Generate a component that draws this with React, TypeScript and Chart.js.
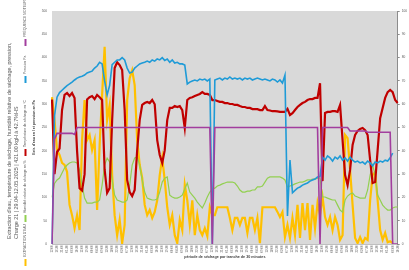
import { useEffect, useRef } from "react";
import { Chart, registerables } from "chart.js";

Chart.register(...registerables);

// 139 sampled half-hour slots, starting 29.04 12:00, one sample per 135 min
const START_MINUTES = 12 * 60;
const STEP_MINUTES = 135;
const SLOT_COUNT = 139;
const slotLabels: string[] = Array.from({ length: SLOT_COUNT }, (_, i) => {
  const m = START_MINUTES + i * STEP_MINUTES;
  const h = Math.floor(m / 60) % 24;
  const mm = m % 60;
  return `${String(h).padStart(2, "0")}:${String(mm).padStart(2, "0")}`;
});

const seriesNames = [
  "EXTRACTION D'EAU",
  "Humidité relative de séchage en %",
  "Température de séchage en °C",
  "Pression Pa",
  "FRÉQUENCE MOTEUR",
];

// left axis (0-500)
const waterExtraction = [
  315, 266, 202, 191, 174, 170, 155, 84, 62, 34, 62, 30, 223, 309, 223, 234, 202, 223, 73, 212,
  320, 423, 266, 298, 148, 62, 19, 52, 2, 41, 309, 356, 373, 341, 223, 170, 142, 84, 62, 73,
  56, 69, 94, 148, 185, 137, 79, 41, 62, 19, 2, 52, 30, 127, 94, 41, 94, 19, 62, 30,
  19, 34, 17, 79, 62, 62, 79, 79, 79, 79, 79, 56, 30, 56, 56, 41, 56, 56, 24, 56,
  56, 30, 56, 2, 79, 79, 79, 79, 79, 79, 69, 58, 69, 15, 41, 13, 56, 19, 84, 13,
  88, 30, 88, 9, 84, 34, 88, 62, 101, 58, 41, 58, 30, 58, 41, 9, 19, 234, 227, 159,
  84, 13, 2, 15, 2, 13, 9, 94, 148, 155, 94, 30, 9, 24, 4, 6, 2, null, null,
];

// right axis (0-100)
const humidity = [
  20, 26, 27.5, 28.3, 30.5, 32.6, 33.9, 34.8, 35.2, 35.2, 34.8, 31.8, 25.3, 19.7, 17.6, 17.6, 17.6, 18, 18, 18.9,
  25.3, 33.9, 36.9, 35.2, 27.5, 21, 18.9, 18.5, 18, 18, 18.9, 25.3, 33.9, 36.9, 37.3, 33.9, 27.5, 22.3, 19.7, 19.3,
  18.9, 18.9, 19.3, 22.3, 26.6, 28.3, 28.8, 21, 20.2, 19.7, 19.7, 20.2, 21, 23.6, 26.2, 22.3, 21, 19.7, 18, 16.7,
  15.5, 17.6, 20.2, 22.3, 23.6, 24, 24.9, 25.3, 25.8, 26.2, 26.6, 26.6, 26.6, 26.2, 24.9, 23.2, 22.3, 22.3, 22.7, 22.7,
  23.2, 23.2, 24.5, 24.5, 24.9, 26.6, 28.3, 28.8, 28.8, 28.8, 28.8, 28.8, 28.3, 27.5, 24.5, 24.9, 25.3, 25.8, 26.2, 26.6,
  26.6, 27, 27.5, 27.5, 27.9, 27.9, 28.3, 28.3, 20.2, 20.2, 19.7, 19.3, 18.9, 18.9, 16.7, 14.6, 13.7, 18.9, 20.6, 21.5,
  21.9, 20.6, 20.2, 19.7, 19.7, 19.7, 23.2, 29.6, 33.9, 29.6, 21, 18.9, 16.7, 15.5, 14.6, 14.6, 15.5, 15.9, 15.9,
];

const dryingTemperature = [
  62, 30, 39.5, 41, 57.5, 64, 64.8, 63.5, 64.8, 62.7, 40, 24, 23, 30, 62, 63, 63.5, 62.2, 64, 63,
  61.8, 32, 22, 24, 53, 75.5, 78, 76.8, 74.7, 57.5, 27.5, 22.3, 20.6, 23.2, 40.3, 53.2, 59.7, 60.5, 61, 60.5,
  61.8, 60, 44.6, 38.2, 34.8, 40.3, 53.2, 58.4, 58.4, 59.2, 58.8, 59.2, 57.5, 49.8, 61.8, 62.7, 63, 63.5, 64, 64.4,
  65.2, 64.4, 64.4, 64, 61.8, 61.8, 61.4, 61, 61, 60.5, 60.5, 60.1, 60.1, 59.7, 59.7, 59.2, 58.8, 58.8, 58.4, 58.4,
  57.9, 57.9, 57.9, 57.5, 57.5, 59.2, 57.5, 57.3, 57, 57, 56.9, 56.7, 56.7, 56.7, 58, 55.4, 56.2, 57.5, 58.8, 59.7,
  60.5, 61, 61.8, 62.2, 62.2, 62.7, 62.7, 69, 27, 56.2, 56.7, 56.7, 57, 57, 56.7, 59.7, 44.6, 29.6, 25.3, 31.8,
  42.5, 46.8, 48.5, 49.4, 49.8, 48.9, 46.8, 36, 26.2, 26.6, 40.3, 54, 58.4, 62.7, 65.2, 66.1, 65.2, 61.8, 60.5,
];

const pressure = [
  0, 55, 63, 65, 66, 67, 68, 68.7, 69.5, 70.4, 71.2, 71.7, 72, 72.5, 73.4, 73.8, 74.2, 75.5, 76.4, 78,
  77.3, 70, 64, 68, 77, 78, 79, 79, 80, 79, 75.5, 73.4, 73.8, 75.5, 76.4, 77.3, 77.7, 78, 78.5, 78,
  79, 78.5, 79.4, 79, 80, 78.8, 79.4, 78, 79, 77.7, 78, 77.3, 77.3, 76.8, 68.7, 69.5, 70, 70.4, 70, 70.8,
  70.4, 70.8, 70, 70.8, 0, 70.4, 70.8, 71.2, 70.4, 71.2, 70.8, 71.7, 70.8, 71.2, 70.8, 71.2, 70.4, 71.2, 70.8, 71.2,
  70.4, 70.8, 71.2, 70.8, 70.4, 70.8, 70.4, 70, 70.8, 70.4, 69.5, 70.4, 69.1, 72.5, 12, 36, 22, 23, 24, 24.5,
  25.3, 25.8, 26.2, 27, 27.5, 27.9, 28.8, 29, 37.3, 36, 37.8, 37, 35.6, 37.3, 36.5, 37.8, 36, 37, 35.6, 37.3,
  36, 35.2, 35.6, 34.8, 35.2, 34.3, 35.6, 34.8, 33.5, 35.2, 34.8, 35.6, 35.2, 36, 35.6, 37, 39, null, null,
];

const motorFrequency = [
  0, 45, 47.5, 47.5, 47.5, 47.5, 47.5, 47.5, 47.5, 47, 50, 50, 50, 50, 50, 50, 50, 50, 50, 50,
  50, 50, 50, 50, 50, 50, 50, 50, 50, 50, 50, 50, 50, 50, 50, 50, 50, 50, 50, 50,
  50, 50, 50, 50, 50, 50, 50, 50, 50, 50, 50, 50, 50, 50, 50, 50, 50, 50, 50, 50,
  50, 50, 50, 50, 0, 50, 50, 50, 50, 50, 50, 50, 50, 50, 50, 50, 50, 50, 50, 50,
  50, 50, 50, 50, 50, 50, 50, 50, 50, 50, 50, 50, 50, 50, 50, 50, 50, 50, 50, 50,
  50, 50, 50, 50, 50, 50, 50, 0, 50, 50, 50, 50, 50, 50, 50, 50, 50, 50, 50, 48.5,
  48.5, 48.5, 48.5, 48.5, 48.5, 48.5, 48, 48, 48, 48, 48, 48, 48, 48, 48, 48, 0, 0, 0,
];

const leftTicks = [0, 50, 100, 150, 200, 250, 300, 350, 400, 450, 500];
const rightTicks = [0, 10, 20, 30, 40, 50, 60, 70, 80, 90, 100];

const titleLines = [
  "Extraction d'eau, température de séchage, humidité relative de séchage, pression,",
  "Charge 21 | 29.04-12.05.2025 | 421.00 kgH à 42.7%HS",
];

const COLORS = ["#ffc000", "#92d050", "#c00000", "#1f9bd7", "#a23e9e"];
const FONT = "'Liberation Sans', Arial, sans-serif";

const sidePlugin = {
  id: "sideTexts",
  beforeDraw(chart: any) {
    const { ctx, chartArea } = chart;
    ctx.save();
    ctx.fillStyle = "#d9d9d9";
    ctx.fillRect(chartArea.left, chartArea.top, chartArea.right - chartArea.left, chartArea.bottom - chartArea.top);
    ctx.restore();
  },
  afterDraw(chart: any) {
    const { ctx } = chart;
    ctx.save();
    ctx.fillStyle = "#595959";
    ctx.font = `5.4px ${FONT}`;
    ctx.textAlign = "left";
    ctx.textBaseline = "middle";
    const titleX = [10, 16.5];
    titleLines.forEach((t, i) => {
      ctx.save();
      ctx.translate(titleX[i], 239);
      ctx.rotate(-Math.PI / 2);
      ctx.fillText(t, 0, 0);
      ctx.restore();
    });
    const anchors = [266, 222, 156, 83, 46];
    const x = 25.5;
    chart.data.datasets.forEach((ds: any, i: number) => {
      const a = anchors[i];
      ctx.strokeStyle = ds.borderColor;
      ctx.lineWidth = 2;
      ctx.beginPath();
      ctx.moveTo(x, a);
      ctx.lineTo(x, a - 7);
      ctx.stroke();
      ctx.save();
      ctx.translate(x, a - 9);
      ctx.rotate(-Math.PI / 2);
      ctx.fillStyle = "#595959";
      ctx.font = `3.4px ${FONT}`;
      ctx.textAlign = "left";
      ctx.textBaseline = "middle";
      ctx.fillText(ds.label, 0, 0);
      ctx.restore();
    });
    ctx.restore();
  },
};

export default function App() {
  const ref = useRef<HTMLCanvasElement>(null);
  useEffect(() => {
    if (!ref.current) return;
    const mk = (i: number, data: (number | null)[], axis: string, width: number, order: number) => ({
      label: seriesNames[i],
      data,
      yAxisID: axis,
      borderColor: COLORS[i],
      backgroundColor: COLORS[i],
      borderWidth: width,
      pointRadius: 0,
      tension: 0,
      fill: false,
      order,
    });
    const chart = new Chart(ref.current, {
      type: "line",
      data: {
        labels: slotLabels,
        datasets: [
          mk(0, waterExtraction, "yL", 2.2, 5),
          mk(1, humidity, "yR", 1.2, 4),
          mk(2, dryingTemperature, "yR", 2.2, 3),
          mk(3, pressure, "yR", 1.6, 2),
          mk(4, motorFrequency, "yR", 1.6, 1),
        ],
      },
      options: {
        responsive: true,
        maintainAspectRatio: false,
        animation: false,
        layout: { padding: { left: 30.5, top: 11, right: 0, bottom: 11 } },
        plugins: {
          legend: { display: false },
          tooltip: { enabled: false },
          title: { display: false },
        },
        scales: {
          x: {
            type: "category",
            offset: false,
            grid: { display: false, drawTicks: false },
            border: { display: true, color: "#bfbfbf" },
            ticks: {
              autoSkip: false,
              minRotation: 90,
              maxRotation: 90,
              padding: 1,
              color: "#595959",
              font: { size: 3, family: FONT },
              callback: function (this: any, v: any, i: number) {
                return i % 2 === 0 ? slotLabels[i] : null;
              },
            },
            title: {
              display: true,
              text: "période de séchage par tranche de 30 minutes",
              color: "#404040",
              font: { size: 3.7, weight: "bold", family: FONT },
              padding: { top: 1, bottom: 0 },
            },
          },
          yL: {
            type: "linear",
            position: "left",
            min: 0,
            max: 500,
            afterBuildTicks: (s: any) => {
              s.ticks = leftTicks.map((v) => ({ value: v }));
            },
            grid: { display: false, drawTicks: false },
            border: { display: false },
            ticks: {
              padding: 5,
              color: "#595959",
              font: { size: 3.2, family: FONT },
            },
            title: {
              display: true,
              text: "Extr. d'eau en l et pression en Pa",
              color: "#404040",
              font: { size: 3.5, weight: "bold", family: FONT },
              padding: { top: 1, bottom: 1 },
            },
          },
          yR: {
            type: "linear",
            position: "right",
            min: 0,
            max: 100,
            afterBuildTicks: (s: any) => {
              s.ticks = rightTicks.map((v) => ({ value: v }));
            },
            grid: { display: true, drawOnChartArea: false, drawTicks: true, tickLength: 2, color: "#8c8c8c" },
            border: { display: true, color: "#8c8c8c" },
            ticks: {
              padding: 2,
              color: "#595959",
              font: { size: 3.2, family: FONT },
            },
          },
        },
      },
      plugins: [sidePlugin],
    });
    return () => chart.destroy();
  }, []);
  return (
    <div style={{ position: "fixed", left: 0, top: 0, width: 409, height: 270, background: "#ffffff" }}>
      <canvas ref={ref} />
    </div>
  );
}
